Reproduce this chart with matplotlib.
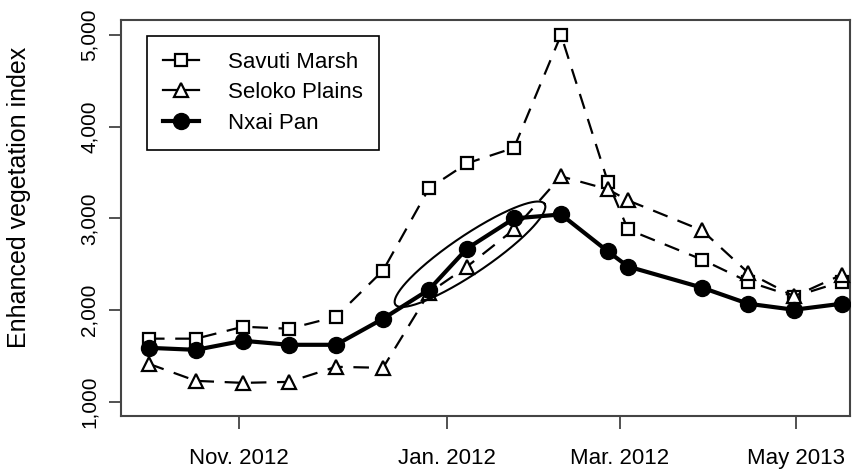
import numpy as np
import matplotlib
matplotlib.use("Agg")
import matplotlib.pyplot as plt

plt.rcParams['font.family'] = ['Liberation Sans', 'DejaVu Sans']

# sample positions along the time axis (arbitrary time units)
x_pos = [149, 196, 243, 289, 336, 383, 429, 467, 514, 561, 608, 628, 702, 748, 794, 842]
savuti = [1690, 1690, 1820, 1798, 1929, 2432, 3328, 3601, 3770, 5000, 3394, 2880, 2552, 2312, 2148, 2312]
seloko = [1415, 1230, 1208, 1219, 1383, 1372, 2190, 2475, 2880, 3459, 3317, 3197, 2870, 2410, 2150, 2388]
nxai = [1590, 1568, 1667, 1623, 1623, 1907, 2224, 2672, 3000, 3044, 2640, 2476, 2246, 2071, 2005, 2071]

xtick_pos = [239, 447, 620, 796]
xtick_labels = ["Nov. 2012", "Jan. 2012", "Mar. 2012", "May 2013"]
ytick_vals = [1000, 2000, 3000, 4000, 5000]
ytick_labels = ["1,000", "2,000", "3,000", "4,000", "5,000"]

fig = plt.figure(figsize=(8.63, 4.75), dpi=100)
ax = fig.add_axes([121/863, (475-416)/475, 729/863, 396/475])

dash = (0, (7.0, 4.8))
ax.plot(x_pos, savuti, color='black', lw=1.6, linestyle=dash, marker='s', ms=8.5,
        mfc='white', mec='black', mew=1.6, label='Savuti Marsh', zorder=3)
ax.plot(x_pos, seloko, color='black', lw=1.6, linestyle=dash, marker='^', ms=10.5,
        mfc='white', mec='black', mew=1.6, label='Seloko Plains', zorder=3)
ax.plot(x_pos, nxai, color='black', lw=3, linestyle='-', marker='o', ms=11.5,
        mfc='black', mec='black', label='Nxai Pan', zorder=4)

# ellipse highlighting the rising segment (defined in pixel-like units then mapped)
ppu = 0.09175  # pixels per EVI unit in y
cx, cy = 470, 2610
a, b, th = 90, 19, np.deg2rad(34)
t = np.linspace(0, 2*np.pi, 300)
dx = a*np.cos(t)*np.cos(th) - b*np.sin(t)*np.sin(th)
dy = a*np.cos(t)*np.sin(th) + b*np.sin(t)*np.cos(th)
ax.plot(cx + dx, cy + dy/ppu, color='black', lw=1.5, zorder=5)

ax.set_xlim(121, 850)
ax.set_ylim(847, 5163)

ax.set_xticks(xtick_pos)
ax.set_xticklabels(xtick_labels, fontsize=16)
ax.set_yticks(ytick_vals)
ax.set_yticklabels(ytick_labels, fontsize=15, rotation=90, va='center')
ax.tick_params(axis='both', direction='out', length=9, width=1.2, color='#333333', pad=14)
ax.tick_params(axis='y', pad=7)
for s in ax.spines.values():
    s.set_color('#444444')
    s.set_linewidth(1.5)

ax.set_ylabel("Enhanced vegetation index", fontsize=18)
ax.yaxis.set_label_coords(-0.123, 0.553)

leg = ax.legend(loc='upper left', bbox_to_anchor=(0.036, 0.96), fontsize=16,
                handlelength=1.6, handletextpad=1.3, borderpad=0.72, labelspacing=0.42,
                fancybox=False, framealpha=1, edgecolor='black', borderaxespad=0)
leg.get_frame().set_linewidth(1.2)
for h in leg.get_lines():
    h.set_linestyle('-')

fig.savefig("out.png", dpi=100)
